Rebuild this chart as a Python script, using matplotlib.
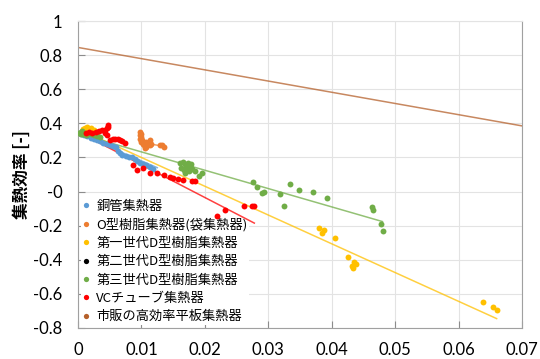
import matplotlib
matplotlib.use("Agg")
import numpy as np
from matplotlib import pyplot as plt
from matplotlib.lines import Line2D
from matplotlib.ticker import FuncFormatter

# series labels / colours
labels = ["銅管集熱器", "O型樹脂集熱器(袋集熱器)", "第一世代D型樹脂集熱器", "第二世代D型樹脂集熱器",
          "第三世代D型樹脂集熱器", "VCチューブ集熱器", "市販の高効率平板集熱器"]
colors = ["#5B9BD5", "#ED7D31", "#FFC000", "#000000", "#70AD47", "#FF0000", "#B5602B"]

# 銅管集熱器
cu_x = [0.0005, 0.001, 0.0015, 0.002, 0.0025, 0.003, 0.0035, 0.004, 0.0045, 0.005, 0.0055, 0.006,
        0.0063, 0.0066, 0.007, 0.0075, 0.008, 0.0085, 0.009, 0.0093, 0.0098, 0.0103, 0.0108, 0.0114, 0.0119]
cu_y = [0.335, 0.33, 0.325, 0.315, 0.31, 0.30, 0.295, 0.285, 0.28, 0.275, 0.265, 0.26,
        0.24, 0.225, 0.215, 0.21, 0.205, 0.20, 0.19, 0.178, 0.165, 0.16, 0.155, 0.146, 0.13]
cu_fit_x = [0.0, 0.0125]
cu_fit_y = [0.34, 0.14]

# O型樹脂集熱器
o_x = [0.0097, 0.0099, 0.0097, 0.0100, 0.0098, 0.0101, 0.0099, 0.0102, 0.0104, 0.0107, 0.0110,
       0.0112, 0.0108, 0.0113, 0.0115, 0.0105, 0.0129, 0.0132, 0.0135, 0.0113]
o_y = [0.35, 0.34, 0.33, 0.32, 0.31, 0.30, 0.29, 0.28, 0.27, 0.29, 0.28,
       0.29, 0.26, 0.27, 0.28, 0.255, 0.273, 0.27, 0.263, 0.30]
o_fit_x = [0.0105, 0.0135]
o_fit_y = [0.285, 0.265]

# 第一世代D型
d1_x = [0.0008, 0.0011, 0.0015, 0.0020, 0.0025, 0.0030, 0.0380, 0.0388, 0.0385, 0.0405, 0.0425,
        0.0435, 0.0438, 0.0434, 0.0432, 0.0639, 0.0654, 0.0661]
d1_y = [0.365, 0.375, 0.377, 0.37, 0.36, 0.35, -0.212, -0.225, -0.243, -0.274, -0.385,
        -0.411, -0.424, -0.450, -0.436, -0.645, -0.676, -0.696]
d1_fit_x = [0.0005, 0.066]
d1_fit_y = [0.36, -0.745]

# 第二世代D型 (no visible points)
d2_x = []
d2_y = []

# 第三世代D型
d3_x = [0.0002, 0.0005, 0.0008, 0.0010, 0.0013, 0.0016, 0.0020, 0.0025, 0.0030, 0.0035, 0.0004, 0.0007,
        0.0161, 0.0165, 0.0168, 0.0170, 0.0173, 0.0176, 0.0178, 0.0180, 0.0163, 0.0167, 0.0171, 0.0175,
        0.0169, 0.0185, 0.0195, 0.0191, 0.0178,
        0.02765, 0.0283, 0.0290, 0.0293, 0.0318, 0.0325, 0.0335, 0.0349, 0.0370, 0.0393,
        0.0463, 0.0465, 0.0478, 0.0481]
d3_y = [0.345, 0.34, 0.335, 0.345, 0.33, 0.34, 0.335, 0.33, 0.325, 0.32, 0.35, 0.355,
        0.17, 0.175, 0.16, 0.15, 0.165, 0.155, 0.14, 0.13, 0.14, 0.125, 0.135, 0.12,
        0.11, 0.122, 0.11, 0.091, 0.162,
        0.058, 0.025, -0.006, -0.002, -0.014, -0.084, 0.046, 0.008, 0.0, -0.036,
        -0.089, -0.108, -0.190, -0.231]
d3_fit_x = [0.0, 0.048]
d3_fit_y = [0.34, -0.176]

# VCチューブ
vc_x = [0.0012, 0.0018, 0.0022, 0.0028, 0.0033, 0.0038, 0.0043, 0.0046, 0.0048, 0.0047, 0.0042,
        0.0046, 0.0050, 0.0055, 0.0058, 0.0063, 0.0069, 0.0074, 0.0066,
        0.0087, 0.0093, 0.0103, 0.0114, 0.0124, 0.0135, 0.0145, 0.0158, 0.0150, 0.0166, 0.0179, 0.0185,
        0.0219, 0.0232, 0.0261, 0.0274, 0.0278]
vc_y = [0.345, 0.35, 0.342, 0.35, 0.355, 0.358, 0.362, 0.372, 0.39, 0.38, 0.345,
        0.33, 0.305, 0.31, 0.307, 0.31, 0.295, 0.283, 0.30,
        0.156, 0.127, 0.137, 0.107, 0.107, 0.097, 0.087, 0.072, 0.08, 0.068, 0.062, 0.062,
        -0.141, -0.108, -0.084, -0.083, -0.083]
vc_fit_x = [0.0, 0.0278]
vc_fit_y = [0.35, -0.185]

# 市販の高効率平板 (trend line only)
com_fit_x = [0.0, 0.07]
com_fit_y = [0.845, 0.385]

series = [(cu_x, cu_y, cu_fit_x, cu_fit_y), (o_x, o_y, o_fit_x, o_fit_y),
          (d1_x, d1_y, d1_fit_x, d1_fit_y), (d2_x, d2_y, None, None),
          (d3_x, d3_y, d3_fit_x, d3_fit_y), (vc_x, vc_y, vc_fit_x, vc_fit_y),
          ([], [], com_fit_x, com_fit_y)]

fig = plt.figure(figsize=(5.4, 3.59), dpi=100)
ax = fig.add_axes([0.1444, 0.0864, 0.8223, 0.8551])

for (sx, sy, fx, fy), c in zip(series, colors):
    if fx is not None:
        ax.plot(fx, fy, color=c, lw=1.1, alpha=0.75, zorder=2)
    if len(sx):
        ax.scatter(sx, sy, s=18, color=c, linewidths=0, zorder=3)

ax.set_xlim(0, 0.07)
ax.set_ylim(-0.8, 1.0)
ax.set_xticks(np.arange(0, 0.071, 0.01))
ax.set_yticks(np.arange(-0.8, 1.01, 0.2))
fmt = FuncFormatter(lambda v, p: f"{round(v, 4):g}")
ax.xaxis.set_major_formatter(fmt)
ax.yaxis.set_major_formatter(fmt)
ax.grid(color="#E3E3E3", lw=0.8)
ax.set_axisbelow(True)
ax.tick_params(direction="in", length=5, color="#8C8C8C", labelsize=12)
ax.tick_params(axis="x", pad=10)
ax.tick_params(axis="y", pad=11)
for lab in ax.get_xticklabels() + ax.get_yticklabels():
    lab.set_family("Lato")
for side in ["left", "bottom", "right"]:
    ax.spines[side].set_color("#A0A0A0")
ax.spines["top"].set_color("#E3E3E3")

ax.set_ylabel("集熱効率 [-]", family=["Noto Sans CJK JP", "DejaVu Sans"], fontsize=12,
              fontweight="bold", labelpad=2)

handles = [Line2D([], [], ls="none", marker="o", ms=3.8, color=c, mew=0) for c in colors]
leg = ax.legend(handles, labels, loc="upper left", bbox_to_anchor=(0.0, 0.43),
                prop={"family": ["Noto Sans CJK JP", "DejaVu Sans"], "size": 9.5},
                handlelength=0.6, handletextpad=0.5, labelspacing=0.4,
                borderaxespad=0.2, borderpad=0.1, frameon=True, fancybox=False)
leg.get_frame().set_edgecolor("none")
leg.get_frame().set_facecolor("white")
leg.get_frame().set_alpha(1)
leg.set_zorder(1)

plt.savefig("out.png")
